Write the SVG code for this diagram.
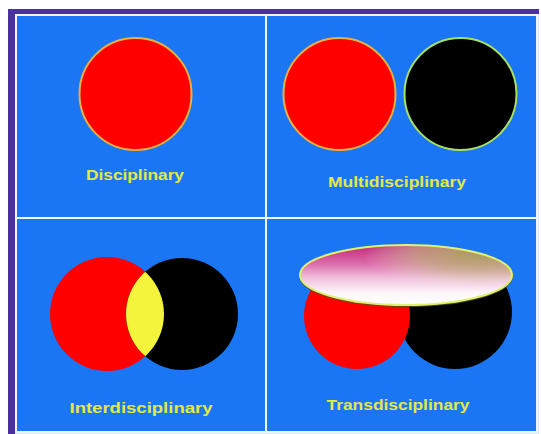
<svg xmlns="http://www.w3.org/2000/svg" width="541" height="434" viewBox="0 0 541 434">
  <defs>
    <style>
      .lbl { font-family: "Comic Sans MS", "Liberation Sans", "DejaVu Sans", sans-serif; font-size: 15px; font-weight: bold; fill: #e4e844; text-anchor: middle; }
      .red { fill: #ff0000; }
      .blk { fill: #000000; }
      .grid { stroke: #f4f4ff; stroke-width: 2; fill: none; }
    </style>
    <linearGradient id="capV" x1="0" y1="0" x2="0" y2="1">
      <stop offset="0" stop-color="#c02878"/>
      <stop offset="0.3" stop-color="#dc68a8"/>
      <stop offset="0.55" stop-color="#f0c0dc"/>
      <stop offset="0.8" stop-color="#fdf6fa"/>
      <stop offset="1" stop-color="#ffffff"/>
    </linearGradient>
    <radialGradient id="capOlive" cx="0.85" cy="0.15" r="0.55">
      <stop offset="0" stop-color="#a8a858" stop-opacity="0.9"/>
      <stop offset="0.55" stop-color="#c0c080" stop-opacity="0.6"/>
      <stop offset="1" stop-color="#e8e8c8" stop-opacity="0"/>
    </radialGradient>
  </defs>

  <rect width="541" height="434" fill="#ffffff"/>
  <rect x="8" y="9" width="531" height="425" fill="#4a30a0"/>
  <rect x="15" y="14" width="524" height="420" fill="#d8e8ff"/>
  <rect x="17" y="16" width="519" height="415" fill="#1a76f4"/>

  <g id="grid">
    <rect class="grid" x="16" y="15" width="521" height="417"/>
    <line class="grid" x1="266" y1="15" x2="266" y2="432"/>
    <line class="grid" x1="16" y1="218" x2="537" y2="218"/>
  </g>

  <g id="disciplinary">
    <circle class="red" cx="135.5" cy="94" r="56" stroke="#e8b040" stroke-width="2"/>
    <text class="lbl" x="135" y="180" textLength="98" lengthAdjust="spacingAndGlyphs">Disciplinary</text>
  </g>

  <g id="multidisciplinary">
    <circle class="red" cx="339.5" cy="94" r="56" stroke="#e8b040" stroke-width="2"/>
    <circle class="blk" cx="460.5" cy="94" r="56" stroke="#a8e060" stroke-width="2"/>
    <text class="lbl" x="397" y="187" textLength="138" lengthAdjust="spacingAndGlyphs">Multidisciplinary</text>
  </g>

  <g id="interdisciplinary">
    <clipPath id="redClip"><circle cx="107" cy="314" r="57"/></clipPath>
    <circle class="red" cx="107" cy="314" r="57"/>
    <circle class="blk" cx="182" cy="314" r="56"/>
    <circle cx="182" cy="314" r="56" fill="#f4f43c" clip-path="url(#redClip)"/>
    <text class="lbl" x="141" y="413" textLength="143" lengthAdjust="spacingAndGlyphs">Interdisciplinary</text>
  </g>

  <g id="transdisciplinary">
    <circle class="blk" cx="455" cy="312" r="57"/>
    <circle class="red" cx="357" cy="316" r="53"/>
    <ellipse cx="406" cy="276" rx="106" ry="30" fill="none" stroke="#505018" stroke-width="2" stroke-opacity="0.8"/>
    <ellipse cx="406" cy="275" rx="106" ry="30" fill="url(#capV)"/>
    <ellipse cx="406" cy="275" rx="106" ry="30" fill="url(#capOlive)"/>
    <ellipse cx="406" cy="275" rx="106" ry="30" fill="none" stroke="#e0f070" stroke-width="2"/>
    <text class="lbl" x="398" y="410" textLength="143" lengthAdjust="spacingAndGlyphs">Transdisciplinary</text>
  </g>
</svg>
